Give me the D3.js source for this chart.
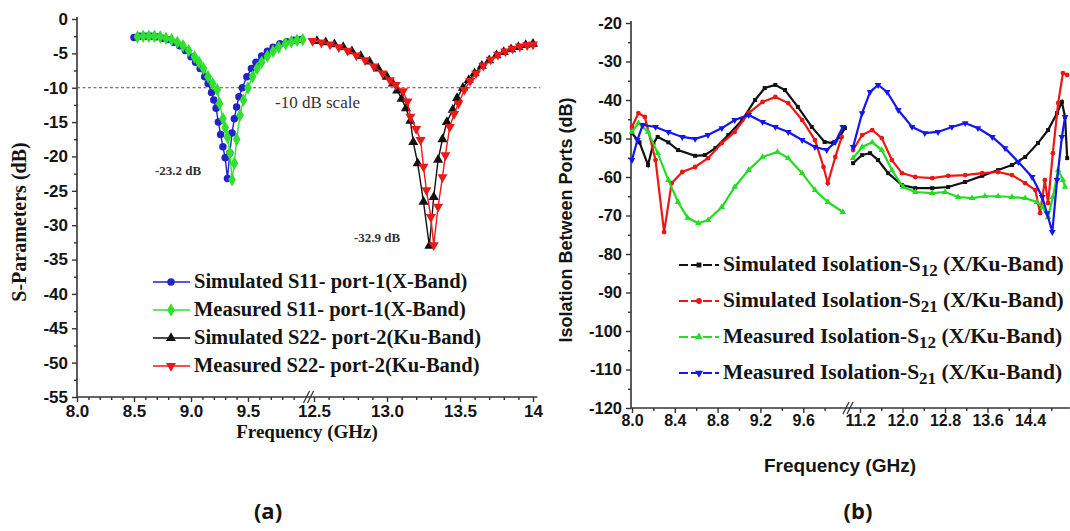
<!DOCTYPE html>
<html>
<head>
<meta charset="utf-8">
<script src="https://cdn.jsdelivr.net/npm/d3@7"></script>
<style>
  body { margin: 0; background: #fff; }
  svg { display: block; }
</style>
</head>
<body>
<svg id="chart"></svg>
<script>
// ---------- panel (a): reflection S11 / S22 ----------
const s11SimFreq = [8.50, 8.55, 8.60, 8.65, 8.70, 8.75, 8.80, 8.85, 8.90, 8.95, 9.00, 9.04, 9.08, 9.12, 9.15, 9.18, 9.20, 9.22, 9.24, 9.26, 9.28, 9.30, 9.32, 9.34, 9.36, 9.38, 9.40, 9.42, 9.45, 9.49, 9.53, 9.57, 9.62, 9.67, 9.72, 9.78, 9.84, 9.90, 9.96];
const s11SimDb = [-2.7, -2.5, -2.5, -2.5, -2.6, -2.8, -3.0, -3.4, -3.9, -4.6, -5.5, -6.3, -7.2, -8.4, -9.4, -10.7, -11.8, -13.0, -15.0, -16.8, -18.6, -20.2, -23.2, -19.5, -16.6, -14.5, -12.8, -11.3, -10.0, -8.4, -7.2, -6.3, -5.4, -4.7, -4.1, -3.6, -3.3, -3.1, -3.0];

const s11MeasFreq = [8.53, 8.58, 8.63, 8.68, 8.73, 8.78, 8.83, 8.88, 8.93, 8.98, 9.03, 9.07, 9.11, 9.15, 9.19, 9.23, 9.25, 9.28, 9.30, 9.32, 9.34, 9.36, 9.38, 9.40, 9.43, 9.46, 9.50, 9.54, 9.58, 9.62, 9.67, 9.72, 9.77, 9.83, 9.88, 9.93, 9.98];
const s11MeasDb = [-2.6, -2.5, -2.5, -2.5, -2.6, -2.8, -3.0, -3.4, -3.9, -4.6, -5.5, -6.3, -7.2, -8.4, -9.4, -10.3, -12.3, -14.5, -15.8, -17.2, -19.5, -23.4, -21.0, -17.5, -14.0, -11.8, -10.0, -8.4, -7.2, -6.3, -5.4, -4.7, -4.1, -3.6, -3.3, -3.1, -3.0];

const s22SimFreq = [12.52, 12.58, 12.64, 12.70, 12.76, 12.82, 12.88, 12.94, 13.00, 13.04, 13.07, 13.10, 13.13, 13.16, 13.18, 13.21, 13.25, 13.29, 13.32, 13.35, 13.38, 13.41, 13.45, 13.48, 13.52, 13.56, 13.60, 13.65, 13.70, 13.75, 13.80, 13.85, 13.90, 13.95, 14.00];
const s22SimDb = [-3.2, -3.4, -3.7, -4.1, -4.7, -5.4, -6.2, -7.2, -8.4, -9.4, -10.4, -11.6, -13.0, -14.8, -17.9, -21.0, -26.6, -33.0, -25.9, -20.5, -17.5, -15.0, -13.2, -11.5, -10.0, -8.9, -7.9, -6.8, -6.0, -5.3, -4.8, -4.4, -4.1, -3.8, -3.6];

const s22MeasFreq = [12.49, 12.55, 12.61, 12.67, 12.73, 12.79, 12.85, 12.91, 12.97, 13.02, 13.06, 13.11, 13.14, 13.16, 13.20, 13.23, 13.25, 13.27, 13.30, 13.32, 13.35, 13.38, 13.40, 13.43, 13.46, 13.49, 13.53, 13.57, 13.61, 13.66, 13.71, 13.76, 13.81, 13.86, 13.91, 13.96, 14.00];
const s22MeasDb = [-3.2, -3.4, -3.7, -4.1, -4.6, -5.3, -6.0, -6.9, -7.9, -8.9, -9.6, -10.5, -12.0, -14.2, -16.0, -17.6, -21.5, -24.9, -28.8, -32.9, -27.3, -23.0, -19.8, -15.7, -13.8, -12.3, -10.3, -9.0, -7.9, -6.8, -5.9, -5.2, -4.7, -4.3, -4.0, -3.8, -3.7];

const legendA = [
  "Simulated S11- port-1(X-Band)",
  "Measured S11- port-1(X-Band)",
  "Simulated S22- port-2(Ku-Band)",
  "Measured S22- port-2(Ku-Band)"
];

// ---------- panel (b): isolation, [GHz, dB], X segment and Ku segment ----------
const simS12X = [[8.00,-48.6],[8.07,-51.0],[8.15,-56.9],[8.20,-51.2],[8.24,-49.6],[8.34,-51.0],[8.43,-53.0],[8.59,-54.5],[8.68,-54.3],[8.78,-52.5],[8.90,-49.1],[9.03,-45.2],[9.15,-40.0],[9.24,-36.9],[9.34,-36.1],[9.43,-37.4],[9.55,-41.8],[9.68,-47.0],[9.80,-50.9],[9.88,-51.2],[9.94,-49.6],[9.99,-47.3]];
const simS12Ku = [[11.07,-56.4],[11.24,-54.3],[11.39,-53.8],[11.54,-55.6],[11.73,-59.0],[11.99,-62.1],[12.24,-62.9],[12.56,-62.9],[12.86,-62.6],[13.18,-61.3],[13.50,-59.7],[13.80,-58.2],[14.06,-56.9],[14.31,-54.8],[14.55,-51.2],[14.74,-47.8],[14.91,-43.4],[15.00,-40.5],[15.06,-44.4],[15.10,-55.1]];

const simS21X = [[8.00,-47.0],[8.06,-43.4],[8.12,-44.4],[8.22,-55.6],[8.30,-74.3],[8.37,-61.6],[8.47,-58.7],[8.59,-57.4],[8.71,-55.1],[8.84,-51.2],[8.96,-48.3],[9.09,-43.4],[9.22,-40.5],[9.34,-39.2],[9.46,-40.8],[9.59,-45.2],[9.71,-50.4],[9.79,-57.4],[9.83,-61.6],[9.90,-54.8],[9.96,-49.6]];
const simS21Ku = [[11.07,-53.0],[11.24,-49.1],[11.43,-47.8],[11.61,-49.9],[11.80,-55.6],[11.99,-59.0],[12.24,-60.0],[12.56,-60.3],[12.86,-59.7],[13.18,-59.5],[13.50,-59.0],[13.80,-58.7],[14.06,-59.5],[14.31,-61.6],[14.50,-63.4],[14.59,-69.4],[14.68,-60.8],[14.74,-66.8],[14.83,-53.8],[14.93,-40.8],[15.02,-33.0],[15.10,-33.5]];

const measS12X = [[8.00,-48.3],[8.06,-46.0],[8.15,-48.3],[8.24,-53.8],[8.34,-60.8],[8.43,-66.5],[8.52,-70.6],[8.62,-72.0],[8.71,-71.2],[8.84,-67.8],[8.96,-62.6],[9.09,-58.2],[9.22,-54.8],[9.36,-53.5],[9.46,-55.1],[9.59,-59.0],[9.71,-63.4],[9.83,-66.5],[9.97,-69.1]];
const measS12Ku = [[11.07,-55.1],[11.24,-52.2],[11.43,-51.0],[11.61,-53.0],[11.80,-58.2],[12.01,-62.6],[12.24,-63.9],[12.56,-64.2],[12.80,-63.9],[13.05,-65.2],[13.31,-65.5],[13.55,-65.0],[13.80,-65.0],[14.06,-65.2],[14.31,-65.5],[14.53,-66.5],[14.64,-67.8],[14.74,-70.4],[14.83,-65.2],[14.93,-58.2],[15.02,-60.8],[15.06,-62.6]];

const measS21X = [[8.00,-55.6],[8.05,-50.4],[8.10,-46.5],[8.22,-47.0],[8.34,-48.3],[8.47,-49.6],[8.59,-50.1],[8.71,-49.1],[8.84,-47.3],[8.96,-45.2],[9.09,-43.9],[9.22,-45.7],[9.34,-47.0],[9.46,-48.3],[9.59,-50.4],[9.71,-52.2],[9.82,-53.0],[9.90,-50.9],[9.97,-47.0]];
const measS21Ku = [[11.07,-52.2],[11.24,-43.4],[11.39,-37.9],[11.54,-36.1],[11.71,-37.9],[11.92,-42.6],[12.18,-47.0],[12.42,-48.6],[12.67,-48.3],[12.93,-47.0],[13.18,-46.0],[13.42,-47.3],[13.69,-49.6],[13.93,-52.5],[14.18,-56.1],[14.44,-60.0],[14.63,-65.2],[14.72,-69.4],[14.82,-74.3],[14.91,-60.8],[15.00,-49.6],[15.06,-44.4]];

const legendB = [
  ["Simulated Isolation-S", "12", " (X/Ku-Band)"],
  ["Simulated Isolation-S", "21", " (X/Ku-Band)"],
  ["Measured Isolation-S", "12", " (X/Ku-Band)"],
  ["Measured Isolation-S", "21", " (X/Ku-Band)"]
];

const xTicksB1 = [8.0, 8.4, 8.8, 9.2, 9.6];
const xTicksB2 = [11.2, 12.0, 12.8, 13.6, 14.4];

const width = 1070, height = 531;
const serif = "'Liberation Serif', 'Times New Roman', serif";
const sans = "'Liberation Sans', Arial, sans-serif";
const ink = "#141414";

const svg = d3.select("#chart").attr("width", width).attr("height", height);
svg.append("rect").attr("width", width).attr("height", height).attr("fill", "#fff");

function styleAxis(g, size, weight) {
  g.select(".domain").remove();
  g.selectAll("line").attr("stroke", "#333").attr("stroke-width", 1.4);
  g.selectAll("text").attr("fill", ink).attr("font-family", sans)
    .attr("font-size", size).attr("font-weight", weight);
}

function breakMark(g, x, y) {
  [-3, 1].forEach(dx => {
    g.append("line")
      .attr("x1", x + dx - 3).attr("y1", y + 6)
      .attr("x2", x + dx + 3).attr("y2", y - 6)
      .attr("stroke", "#333").attr("stroke-width", 1.3);
  });
}

// ================= panel (a) =================
const xA1 = d3.scaleLinear().domain([8.0, 10.0]).range([77, 305]);
const xA2 = d3.scaleLinear().domain([12.5, 14.0]).range([314, 533]);
const yA = d3.scaleLinear().domain([-55, 0]).range([397, 19]);
const gA = svg.append("g");

// y axis
gA.append("g").attr("transform", `translate(${xA1(8)},0)`)
  .call(d3.axisLeft(yA).tickValues(d3.range(0, -56, -5)).tickSize(5).tickPadding(4).tickFormat(d => String(d)))
  .call(g => styleAxis(g, 17, "bold"));
gA.append("g").attr("transform", `translate(${xA1(8)},0)`)
  .call(d3.axisLeft(yA).tickValues(d3.range(-2.5, -55, -5)).tickSize(3).tickFormat(""))
  .call(g => styleAxis(g, 10, "normal"));
gA.append("line").attr("x1", xA1(8)).attr("x2", xA1(8)).attr("y1", yA(0) - 2).attr("y2", yA(-55))
  .attr("stroke", "#333").attr("stroke-width", 1.6);

// x axis, two segments
const axisYA = yA(-55);
gA.append("g").attr("transform", `translate(0,${axisYA})`)
  .call(d3.axisBottom(xA1).tickValues([8.0, 8.5, 9.0, 9.5]).tickSize(5).tickPadding(3).tickFormat(d3.format(".1f")))
  .call(g => styleAxis(g, 17, "bold"));
gA.append("g").attr("transform", `translate(0,${axisYA})`)
  .call(d3.axisBottom(xA1).tickValues(d3.range(8.1, 10.0, 0.1).filter(v => Math.abs(v * 2 - Math.round(v * 2)) > 0.01)).tickSize(3).tickFormat(""))
  .call(g => styleAxis(g, 10, "normal"));
gA.append("g").attr("transform", `translate(0,${axisYA})`)
  .call(d3.axisBottom(xA2).tickValues([12.5, 13.0, 13.5, 14.0]).tickSize(5).tickPadding(3).tickFormat(d => d === 14 ? "14" : d.toFixed(1)))
  .call(g => styleAxis(g, 17, "bold"));
gA.append("g").attr("transform", `translate(0,${axisYA})`)
  .call(d3.axisBottom(xA2).tickValues(d3.range(12.6, 14.0, 0.1).filter(v => Math.abs(v * 2 - Math.round(v * 2)) > 0.01)).tickSize(3).tickFormat(""))
  .call(g => styleAxis(g, 10, "normal"));
gA.append("line").attr("x1", xA1(8)).attr("x2", xA2(14.03)).attr("y1", axisYA).attr("y2", axisYA)
  .attr("stroke", "#333").attr("stroke-width", 1.6);
breakMark(gA, (xA1(10) + xA2(12.5)) / 2, axisYA);

// -10 dB reference
gA.append("line").attr("x1", xA1(8)).attr("x2", xA2(14.05)).attr("y1", yA(-10)).attr("y2", yA(-10))
  .attr("stroke", "#555").attr("stroke-width", 1).attr("stroke-dasharray", "3,2.5");

const seriesA = [
  { f: s11SimFreq, v: s11SimDb, x: xA1, color: "#2222c8", type: d3.symbolCircle, size: 44, rot: 0 },
  { f: s11MeasFreq, v: s11MeasDb, x: xA1, color: "#2fe02f", type: d3.symbolDiamond, size: 52, rot: 0 },
  { f: s22SimFreq, v: s22SimDb, x: xA2, color: "#111", type: d3.symbolTriangle, size: 44, rot: 0 },
  { f: s22MeasFreq, v: s22MeasDb, x: xA2, color: "#ee1818", type: d3.symbolTriangle, size: 44, rot: 180 }
];

seriesA.forEach(s => {
  const pts = s.f.map((f, i) => [f, s.v[i]]);
  gA.append("path").datum(pts)
    .attr("fill", "none").attr("stroke", s.color).attr("stroke-width", 1.4)
    .attr("d", d3.line().x(d => s.x(d[0])).y(d => yA(d[1])));
  gA.selectAll(null).data(pts).join("path")
    .attr("transform", d => `translate(${s.x(d[0])},${yA(d[1])}) rotate(${s.rot})`)
    .attr("d", d3.symbol().type(s.type).size(s.size))
    .attr("fill", s.color);
});

// annotations
gA.append("text").attr("x", 275).attr("y", 108).text("-10 dB scale")
  .attr("font-family", serif).attr("font-size", 17).attr("fill", "#333");
gA.append("text").attr("x", 155).attr("y", 175).text("-23.2 dB")
  .attr("font-family", serif).attr("font-size", 13).attr("font-weight", "bold").attr("fill", "#333");
gA.append("text").attr("x", 354).attr("y", 242).text("-32.9 dB")
  .attr("font-family", serif).attr("font-size", 13).attr("font-weight", "bold").attr("fill", "#333");

// legend (a)
const legA = gA.append("g");
seriesA.forEach((s, i) => {
  const y = 282 + i * 28;
  legA.append("line").attr("x1", 153).attr("x2", 190).attr("y1", y).attr("y2", y)
    .attr("stroke", s.color).attr("stroke-width", 1.4);
  legA.append("path").attr("transform", `translate(171,${y}) rotate(${s.rot})`)
    .attr("d", d3.symbol().type(s.type).size(s.size)).attr("fill", s.color);
  legA.append("text").attr("x", 194).attr("y", y + 6).text(legendA[i])
    .attr("font-family", serif).attr("font-weight", "bold").attr("font-size", 20.5).attr("fill", ink);
});

// axis titles (a)
gA.append("text").attr("transform", `translate(26,222) rotate(-90)`).attr("text-anchor", "middle")
  .text("S-Parameters (dB)").attr("font-family", serif).attr("font-weight", "bold").attr("font-size", 20).attr("fill", ink);
gA.append("text").attr("x", 307).attr("y", 438).attr("text-anchor", "middle")
  .text("Frequency (GHz)").attr("font-family", serif).attr("font-weight", "bold").attr("font-size", 19).attr("fill", ink);

// ================= panel (b) =================
const xB1 = d3.scaleLinear().domain([8.0, 10.0]).range([632, 846]);
const xB2 = d3.scaleLinear().domain([11.2, 14.4]).range([860, 1030]);
const yB = d3.scaleLinear().domain([-120, -20]).range([408, 23]);
const gB = svg.append("g");
const axisXB = 631;

gB.append("g").attr("transform", `translate(${axisXB},0)`)
  .call(d3.axisLeft(yB).tickValues(d3.range(-20, -121, -10)).tickSize(5).tickPadding(4).tickFormat(d => String(d)))
  .call(g => styleAxis(g, 16.5, "bold"));
gB.append("g").attr("transform", `translate(${axisXB},0)`)
  .call(d3.axisLeft(yB).tickValues(d3.range(-25, -120, -10)).tickSize(3).tickFormat(""))
  .call(g => styleAxis(g, 10, "normal"));
gB.append("line").attr("x1", axisXB).attr("x2", axisXB).attr("y1", yB(-20) - 2).attr("y2", yB(-120))
  .attr("stroke", "#333").attr("stroke-width", 1.6);

const axisYB = yB(-120);
gB.append("g").attr("transform", `translate(0,${axisYB})`)
  .call(d3.axisBottom(xB1).tickValues(xTicksB1).tickSize(5).tickPadding(2).tickFormat(d3.format(".1f")))
  .call(g => styleAxis(g, 16, "bold"));
gB.append("g").attr("transform", `translate(0,${axisYB})`)
  .call(d3.axisBottom(xB1).tickValues([8.2, 8.6, 9.0, 9.4, 9.8]).tickSize(3).tickFormat(""))
  .call(g => styleAxis(g, 10, "normal"));
gB.append("g").attr("transform", `translate(0,${axisYB})`)
  .call(d3.axisBottom(xB2).tickValues(xTicksB2).tickSize(5).tickPadding(2).tickFormat(d3.format(".1f")))
  .call(g => styleAxis(g, 16, "bold"));
gB.append("g").attr("transform", `translate(0,${axisYB})`)
  .call(d3.axisBottom(xB2).tickValues([11.6, 12.4, 13.2, 14.0, 14.8]).tickSize(3).tickFormat(""))
  .call(g => styleAxis(g, 10, "normal"));
gB.append("line").attr("x1", axisXB).attr("x2", xB2(15.15)).attr("y1", axisYB).attr("y2", axisYB)
  .attr("stroke", "#333").attr("stroke-width", 1.6);
breakMark(gB, 849, axisYB);

const seriesB = [
  { x: simS12X, ku: simS12Ku, color: "#111", type: d3.symbolSquare, size: 16, rot: 0 },
  { x: simS21X, ku: simS21Ku, color: "#ee1515", type: d3.symbolCircle, size: 18, rot: 0 },
  { x: measS12X, ku: measS12Ku, color: "#22dd22", type: d3.symbolTriangle, size: 18, rot: 0 },
  { x: measS21X, ku: measS21Ku, color: "#1515f0", type: d3.symbolTriangle, size: 20, rot: 180 }
];

seriesB.forEach(s => {
  [[s.x, xB1], [s.ku, xB2]].forEach(([pts, xs]) => {
    gB.append("path").datum(pts)
      .attr("fill", "none").attr("stroke", s.color).attr("stroke-width", 2.2)
      .attr("d", d3.line().x(d => xs(d[0])).y(d => yB(d[1])));
    gB.selectAll(null).data(pts).join("path")
      .attr("transform", d => `translate(${xs(d[0])},${yB(d[1])}) rotate(${s.rot})`)
      .attr("d", d3.symbol().type(s.type).size(s.size))
      .attr("fill", s.color);
  });
});

// legend (b)
const legB = gB.append("g");
seriesB.forEach((s, i) => {
  const y = 265 + i * 36;
  legB.append("line").attr("x1", 679).attr("x2", 719).attr("y1", y).attr("y2", y)
    .attr("stroke", s.color).attr("stroke-width", 2).attr("stroke-dasharray", "9,3");
  legB.append("path").attr("transform", `translate(699,${y}) rotate(${s.rot})`)
    .attr("d", d3.symbol().type(s.type).size(s.size + 8)).attr("fill", s.color);
  const t = legB.append("text").attr("x", 723).attr("y", y + 6)
    .attr("font-family", serif).attr("font-weight", "bold").attr("font-size", 21.5).attr("fill", ink);
  t.append("tspan").text(legendB[i][0]);
  t.append("tspan").attr("dy", 5).attr("font-size", 17).text(legendB[i][1]);
  t.append("tspan").attr("dy", -5).text(legendB[i][2]);
});

// axis titles (b)
gB.append("text").attr("transform", `translate(572,220) rotate(-90)`).attr("text-anchor", "middle")
  .text("Isolation Between Ports (dB)").attr("font-family", sans).attr("font-weight", "bold").attr("font-size", 18).attr("fill", ink);
gB.append("text").attr("x", 840).attr("y", 472).attr("text-anchor", "middle")
  .text("Frequency (GHz)").attr("font-family", sans).attr("font-weight", "bold").attr("font-size", 19).attr("fill", ink);

// panel captions
svg.append("text").attr("x", 268).attr("y", 519).attr("text-anchor", "middle").text("(a)")
  .attr("font-family", "'Open Sans', sans-serif").attr("font-weight", "bold").attr("font-size", 22).attr("fill", ink);
svg.append("text").attr("x", 858).attr("y", 519).attr("text-anchor", "middle").text("(b)")
  .attr("font-family", "'Open Sans', sans-serif").attr("font-weight", "bold").attr("font-size", 22).attr("fill", ink);
</script>
</body>
</html>
